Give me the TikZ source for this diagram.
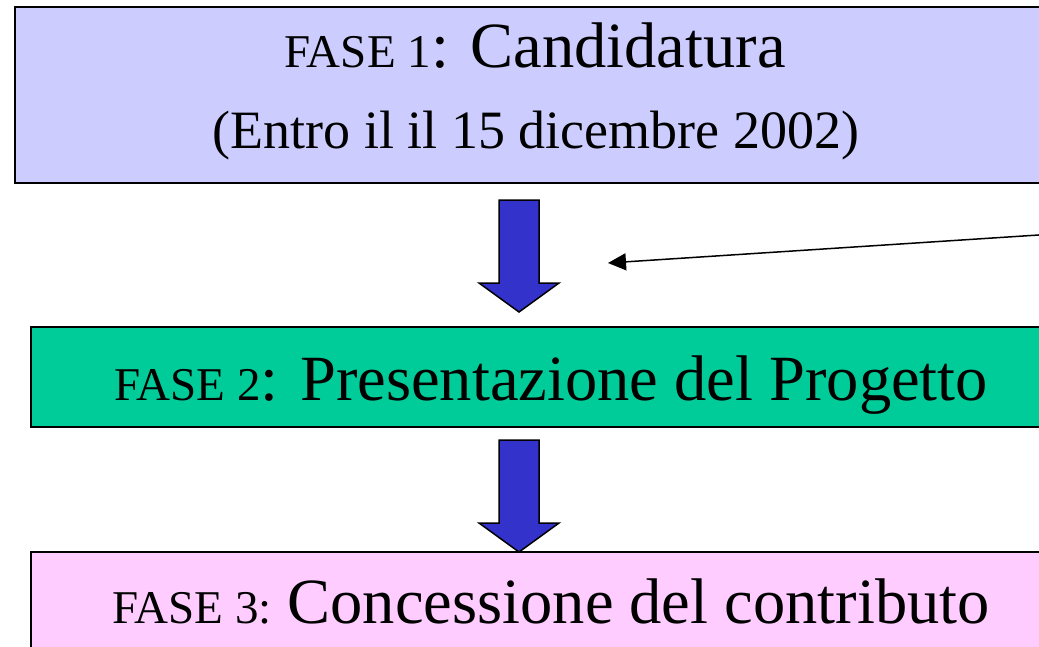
\documentclass[tikz,border=0pt]{standalone}
\usepackage{fontspec}
\setmainfont{Liberation Serif}
\usetikzlibrary{arrows.meta,positioning}

\definecolor{lavanda}{RGB}{204,204,255}
\definecolor{verde}{RGB}{0,204,153}
\definecolor{rosa}{RGB}{255,204,255}
\definecolor{blu}{RGB}{51,51,204}

\tikzset{
  fase/.style={draw=black,line width=2pt,minimum width=1040pt,inner sep=0pt},
  testo/.style={anchor=base,inner sep=0pt},
  freccia/.style={fill=blu,draw=black,line width=1.5pt,line join=miter},
}

\newcommand{\piccolo}{\fontsize{47}{50}\selectfont}
\newcommand{\grande}{\fontsize{64.5}{70}\selectfont}

\begin{document}
\begin{tikzpicture}[x=1pt,y=-1pt]
    \useasboundingbox (0,0) rectangle (1039,646);
    \clip (0,0) rectangle (1039,646);

    \node[fase,fill=lavanda,minimum height=176pt] (fase1) at (535,95) {};
    \node[fase,fill=verde,minimum height=100pt] (fase2) at (551,377) {};
    \node[fase,fill=rosa,minimum height=100pt] (fase3) at (551,602) {};

    % label
    \node[testo] (titolo1) at (535,67) {\piccolo FASE 1\grande: Candidatura};
    \node[testo] (data1) at (536,148) {\fontsize{54}{60}\selectfont (Entro il il 15 dicembre 2002)};
    \node[testo] (titolo2) at (551,400) {\piccolo FASE 2\grande: Presentazione del Progetto};
    \node[testo] (titolo3) at (551,623) {\piccolo FASE 3: \grande Concessione del contributo};

    % frecce blu
    \foreach \y in {200,440}
    \draw[freccia] (499,\y) -- (539,\y) -- (539,\y+83) -- (559,\y+83)
        -- (519,\y+112) -- (479,\y+83) -- (499,\y+83) -- cycle;

    \coordinate (origine) at (1200,224.5);
    \coordinate (punta) at (608,263);
    \draw[line width=1.5pt,-{Triangle[length=18pt,width=17pt]}] (origine) -- (punta);
\end{tikzpicture}
\end{document}
